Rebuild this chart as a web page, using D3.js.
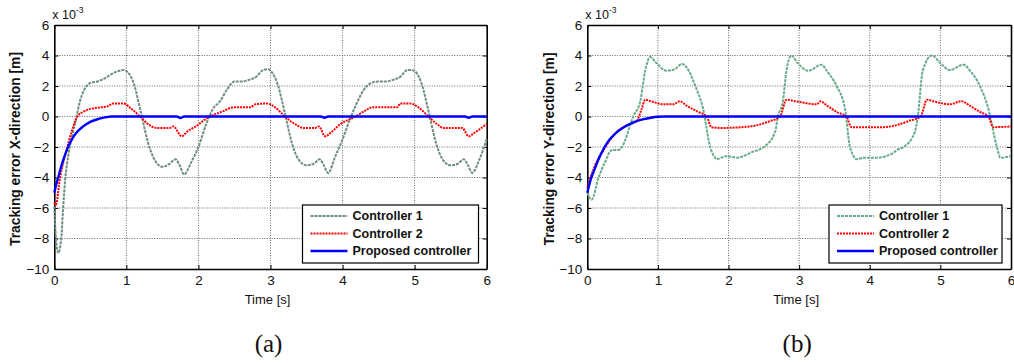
<!DOCTYPE html>
<html>
<head>
<meta charset="utf-8">
<script src="https://cdn.jsdelivr.net/npm/d3@7"></script>
<style>
  body { margin: 0; background: #fff; }
  svg { display: block; }
</style>
</head>
<body>
<svg id="chart" width="1014" height="363"></svg>
<script>
// Tick values (values in units of 1e-3 m)
const xTicks = [0, 1, 2, 3, 4, 5, 6];
const yTicks = [6, 4, 2, 0, -2, -4, -6, -8, -10];
const legendLabels = ['Controller 1', 'Controller 2', 'Proposed controller'];

// (a) X-direction
const c1xT = [0, 0.02, 0.055, 0.08, 0.1, 0.12, 0.15, 0.2, 0.25, 0.3, 0.35, 0.4, 0.45, 0.5, 0.6, 0.7, 0.8, 0.9, 0.96, 1.02, 1.1, 1.2, 1.3, 1.4, 1.5, 1.6, 1.68, 1.74, 1.8, 1.9, 2.0, 2.1, 2.2, 2.3, 2.4, 2.5, 2.6, 2.7, 2.8, 2.9, 2.96, 3.02, 3.1, 3.2, 3.3, 3.4, 3.5, 3.6, 3.68, 3.74, 3.8, 3.9, 4.0, 4.1, 4.2, 4.3, 4.4, 4.5, 4.6, 4.7, 4.8, 4.9, 4.96, 5.02, 5.1, 5.2, 5.3, 5.4, 5.5, 5.6, 5.68, 5.74, 5.8, 5.9, 6.0];
const c1xV = [-5.9, -7.8, -8.95, -8.6, -7.8, -6.2, -4.2, -2.4, -1.2, -0.2, 0.9, 1.6, 2.0, 2.2, 2.3, 2.5, 2.8, 3.0, 3.05, 2.9, 2.2, 0.3, -1.7, -2.9, -3.3, -3.1, -2.8, -3.2, -3.8, -3.0, -2.0, -0.6, 0.5, 1.0, 1.8, 2.3, 2.3, 2.4, 2.6, 3.05, 3.1, 2.9, 2.1, 0.2, -1.8, -2.9, -3.2, -3.1, -2.8, -3.2, -3.7, -2.6, -1.5, -0.2, 0.9, 1.8, 2.2, 2.3, 2.3, 2.4, 2.6, 3.05, 3.05, 2.9, 2.1, 0.2, -1.8, -2.9, -3.2, -3.1, -2.8, -3.2, -3.7, -2.8, -1.5];
const c2xT = [0, 0.02, 0.08, 0.17, 0.24, 0.32, 0.4, 0.5, 0.65, 0.73, 0.82, 0.96, 1.07, 1.19, 1.3, 1.42, 1.6, 1.65, 1.77, 1.84, 1.98, 2.09, 2.16, 2.32, 2.49, 2.72, 2.79, 2.95, 3.09, 3.2, 3.34, 3.46, 3.62, 3.67, 3.76, 3.85, 3.97, 4.18, 4.32, 4.41, 4.76, 4.8, 4.94, 5.08, 5.19, 5.31, 5.4, 5.66, 5.75, 5.82, 6.0];
const c2xV = [-5.65, -5.8, -4.0, -2.2, -1.0, 0.0, 0.3, 0.5, 0.6, 0.65, 0.85, 0.85, 0.5, 0.0, -0.5, -0.75, -0.75, -0.65, -1.3, -1.0, -0.6, -0.2, 0.0, 0.3, 0.6, 0.6, 0.8, 0.85, 0.5, 0.0, -0.5, -0.75, -0.75, -0.65, -1.3, -1.0, -0.5, 0.0, 0.4, 0.6, 0.6, 0.85, 0.85, 0.5, 0.0, -0.5, -0.75, -0.75, -1.3, -1.1, -0.5];
const pxT = [0, 0.03, 0.06, 0.1, 0.15, 0.2, 0.25, 0.3, 0.4, 0.5, 0.6, 0.7, 0.8, 1.0, 1.7, 1.75, 1.8, 3.7, 3.75, 3.8, 5.7, 5.75, 5.8, 6.0];
const pxV = [-5.0, -4.4, -3.9, -3.2, -2.5, -1.9, -1.45, -1.1, -0.65, -0.35, -0.18, -0.06, 0, 0, 0, -0.1, 0, 0, -0.08, 0, 0, -0.08, 0, 0];

// (b) Y-direction
const c1yT = [0, 0.06, 0.16, 0.25, 0.35, 0.44, 0.49, 0.65, 0.75, 0.82, 0.89, 0.98, 1.12, 1.24, 1.34, 1.41, 1.53, 1.64, 1.74, 1.81, 1.83, 1.97, 2.12, 2.26, 2.35, 2.42, 2.5, 2.66, 2.7, 2.77, 2.82, 2.89, 2.98, 3.13, 3.32, 3.39, 3.53, 3.65, 3.72, 3.82, 3.91, 4.1, 4.33, 4.38, 4.48, 4.64, 4.68, 4.75, 4.88, 5.0, 5.13, 5.33, 5.42, 5.56, 5.68, 5.8, 5.85, 6.0];
const c1yV = [-5.0, -5.45, -4.0, -3.0, -2.2, -2.2, -2.0, 0.0, 1.0, 3.0, 3.9, 3.5, 3.0, 3.1, 3.45, 3.2, 2.0, 0.5, -2.0, -2.7, -2.8, -2.6, -2.7, -2.5, -2.3, -2.2, -2.0, -1.0, 0.0, 1.0, 3.0, 4.0, 3.5, 3.0, 3.4, 3.0, 2.0, 0.5, -2.0, -2.8, -2.7, -2.7, -2.4, -2.2, -2.0, -1.0, 0.0, 3.0, 4.0, 3.5, 3.05, 3.4, 3.0, 2.0, 0.5, -2.0, -2.7, -2.6];
const c2yT = [0, 0.1, 0.23, 0.42, 0.6, 0.7, 0.77, 0.82, 0.9, 1.08, 1.22, 1.31, 1.41, 1.57, 1.69, 1.76, 1.9, 2.3, 2.59, 2.73, 2.82, 2.95, 3.25, 3.3, 3.4, 3.53, 3.67, 3.74, 4.19, 4.35, 4.55, 4.72, 4.81, 4.9, 5.13, 5.3, 5.42, 5.56, 5.68, 5.75, 6.0];
const c2yV = [-4.7, -3.3, -2.2, -1.0, -0.5, -0.3, 0.5, 1.1, 1.0, 0.8, 0.8, 1.0, 0.7, 0.3, 0.0, -0.7, -0.75, -0.65, -0.3, 0.0, 1.1, 1.0, 0.8, 1.0, 0.7, 0.3, 0.0, -0.7, -0.7, -0.6, -0.3, 0.0, 1.1, 1.0, 0.8, 1.0, 0.7, 0.3, 0.0, -0.7, -0.65];
const pyT = [0, 0.05, 0.1, 0.15, 0.2, 0.3, 0.4, 0.5, 0.6, 0.7, 0.8, 0.9, 1.0, 1.1, 6.0];
const pyV = [-5.0, -4.1, -3.5, -2.9, -2.4, -1.6, -1.1, -0.75, -0.5, -0.3, -0.17, -0.08, -0.02, 0, 0];

const svg = d3.select('#chart');
svg.append('rect').attr('width', 1014).attr('height', 363).attr('fill', '#fff');

function drawPanel(p) {
  const g = svg.append('g');
  const x = d3.scaleLinear().domain([0, 6]).range([p.left, p.right]);
  const y = d3.scaleLinear().domain([-10, 6]).range([269, 25]);

  // grid
  g.selectAll('line.gx').data(xTicks.slice(1, -1)).join('line')
    .attr('x1', d => x(d)).attr('x2', d => x(d)).attr('y1', y(6)).attr('y2', y(-10))
    .attr('stroke', '#666').attr('stroke-width', 1).attr('stroke-dasharray', '1,1.5');
  g.selectAll('line.gy').data(yTicks.slice(1, -1)).join('line')
    .attr('x1', x(0)).attr('x2', x(6)).attr('y1', d => y(d)).attr('y2', d => y(d))
    .attr('stroke', '#666').attr('stroke-width', 1).attr('stroke-dasharray', '1,1.5');

  // axes (inside ticks)
  const font = 'Arial, "Liberation Sans", sans-serif';
  const ax = [
    g.append('g').attr('transform', `translate(0,${y(-10)})`).call(d3.axisBottom(x).tickValues(xTicks).tickFormat(d3.format('d')).tickSizeInner(-4).tickSizeOuter(0).tickPadding(6)),
    g.append('g').attr('transform', `translate(${x(0)},0)`).call(d3.axisLeft(y).tickValues(yTicks).tickFormat(d3.format('d')).tickSizeInner(-4).tickSizeOuter(0).tickPadding(5)),
    g.append('g').attr('transform', `translate(0,${y(6)})`).call(d3.axisTop(x).tickValues(xTicks).tickSizeInner(-4).tickSizeOuter(0).tickFormat('')),
    g.append('g').attr('transform', `translate(${x(6)},0)`).call(d3.axisRight(y).tickValues(yTicks).tickSizeInner(-4).tickSizeOuter(0).tickFormat(''))
  ];
  ax.forEach(a => {
    a.select('.domain').attr('stroke', '#000').attr('stroke-width', 1.6);
    a.selectAll('.tick line').attr('stroke', '#000');
    a.selectAll('text').attr('font-family', font).attr('font-size', 13.5).attr('fill', '#111');
  });

  // exponent label
  const ex = g.append('text').attr('x', x(0) - 2).attr('y', 19)
    .attr('font-family', font).attr('font-size', 12.5).attr('fill', '#111');
  ex.append('tspan').text('x 10');
  ex.append('tspan').attr('dy', -6).attr('font-size', 8.5).text('-3');

  // axis labels
  g.append('text').attr('transform', `translate(${p.ylabX},149) rotate(-90)`)
    .attr('text-anchor', 'middle').attr('dominant-baseline', 'central')
    .attr('font-family', font).attr('font-weight', 'bold').attr('font-size', 13.8)
    .attr('fill', '#111').text(p.ylabel);
  g.append('text').attr('x', (x(0) + x(6)) / 2 - 3).attr('y', 304)
    .attr('text-anchor', 'middle').attr('font-family', font).attr('font-size', 13)
    .attr('fill', '#111').text('Time [s]');
  g.append('text').attr('x', (x(0) + x(6)) / 2 - 2).attr('y', 352)
    .attr('text-anchor', 'middle').attr('font-family', '"Liberation Serif", "Times New Roman", serif')
    .attr('font-size', 25).attr('fill', '#111').text(p.tag);

  // series
  const line = d3.line().x(d => x(d[0])).y(d => y(d[1])).curve(d3.curveMonotoneX);
  const plot = g.append('g');
  p.series.forEach(s => {
    plot.append('path').datum(d3.zip(s.t, s.v)).attr('d', line)
      .attr('fill', 'none').attr('stroke', s.color).attr('stroke-width', s.width)
      .attr('stroke-dasharray', s.dash).attr('stroke-linejoin', 'round');
  });

  // legend
  const lg = g.append('g').attr('transform', `translate(${p.legX},205)`);
  lg.append('rect').attr('width', p.legW).attr('height', 58)
    .attr('fill', '#fff').attr('stroke', '#000').attr('stroke-width', 1.2);
  p.series.forEach((s, i) => {
    const yy = 11 + i * 17.5;
    lg.append('line').attr('x1', 8).attr('x2', 45).attr('y1', yy).attr('y2', yy)
      .attr('stroke', s.color).attr('stroke-width', s.width).attr('stroke-dasharray', s.dash);
    lg.append('text').attr('x', 50).attr('y', yy).attr('dominant-baseline', 'central')
      .attr('font-family', font).attr('font-weight', 'bold').attr('font-size', 12.5)
      .attr('fill', '#111').text(legendLabels[i]);
  });
}

drawPanel({
  left: 54.3, right: 486.7, ylabX: 15, legX: 302.5, legW: 176,
  ylabel: 'Tracking error X-direction [m]', tag: '(a)',
  series: [
    { t: c1xT, v: c1xV, color: '#6e8f7f', width: 2, dash: '3,1' },
    { t: c2xT, v: c2xV, color: '#ff0000', width: 2, dash: '2,1' },
    { t: pxT, v: pxV, color: '#0000ff', width: 2.4, dash: null }
  ]
});

drawPanel({
  left: 587.3, right: 1011, ylabX: 549, legX: 829, legW: 173,
  ylabel: 'Tracking error Y-direction [m]', tag: '(b)',
  series: [
    { t: c1yT, v: c1yV, color: '#6aab8b', width: 2, dash: '3,1' },
    { t: c2yT, v: c2yV, color: '#ff0000', width: 2, dash: '2,1' },
    { t: pyT, v: pyV, color: '#0000ff', width: 2.4, dash: null }
  ]
});
</script>
</body>
</html>
